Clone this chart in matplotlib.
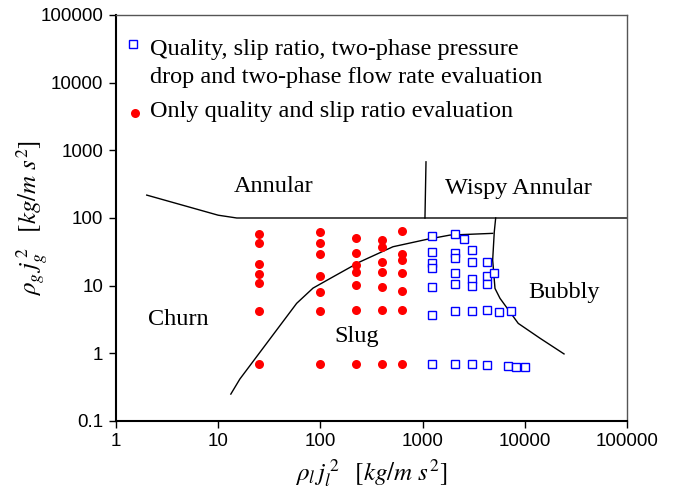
import matplotlib
matplotlib.use("Agg")
from matplotlib import pyplot as plt

plt.rcParams['mathtext.fontset'] = 'stix'

# red dots: only quality and slip ratio evaluation
red_x = [25]*7 + [100]*7 + [225]*7 + [400]*7 + [625]*7
red_y = [59, 43, 20.6, 14.8, 11.0, 4.26, 0.69,
         62.5, 42.6, 29.6, 14.0, 8.1, 4.2, 0.69,
         50, 30.6, 20.1, 16.0, 10.3, 4.36, 0.69,
         47, 37.6, 22.5, 15.7, 9.5, 4.36, 0.69,
         64.7, 29.3, 23.9, 15.2, 8.4, 4.36, 0.69]

# blue squares: full evaluation
blue_x = [1250]*7 + [2075]*7 + [2560] + [3065]*6 + [4300]*5 + [5000, 5600, 6900, 7280, 8150, 10040]
blue_y = [54.6, 31.7, 21.3, 18.0, 9.6, 3.68, 0.69,
          57.8, 30.0, 25.3, 15.2, 10.6, 4.2, 0.69,
          48.3,
          33.6, 22.1, 12.5, 9.9, 4.26, 0.69,
          22.1, 14.0, 10.6, 4.36, 0.67,
          15.2, 4.03, 0.66, 4.26, 0.62, 0.62]

# flow pattern boundaries
annular_x = [2.0, 10, 15.2, 100000]
annular_y = [218, 110, 100, 100]
wispy_x = [1080, 1055]
wispy_y = [676, 100]
slug_x = [13.3, 16.3, 58.6, 84.7, 133, 244, 513, 1097, 1854, 4850]
slug_y = [0.25, 0.417, 5.48, 9.2, 13.5, 22.5, 37.6, 48.3, 55.9, 59.3]
bubbly_x = [5190, 5030, 4850, 5110, 5720, 8630, 14100, 24200]
bubbly_y = [100, 62.5, 23.9, 9.1, 6.5, 2.77, 1.67, 0.98]

labels = ["Annular", "Wispy Annular", "Churn", "Slug", "Bubbly"]
label_x = [35, 8570, 4.04, 228, 24200]
label_y = [296, 277, 3.2, 1.8, 8.0]

legend_lines = ["Quality, slip ratio, two-phase pressure",
                "drop and two-phase flow rate evaluation",
                "Only quality and slip ratio evaluation"]

fig = plt.figure(figsize=(6.79, 4.95), dpi=100)
ax = fig.add_axes([0.1708, 0.1495, 0.7526, 0.8202])

for bx, by in [(annular_x, annular_y), (wispy_x, wispy_y), (slug_x, slug_y), (bubbly_x, bubbly_y)]:
    ax.plot(bx, by, color="black", lw=1.0)

ax.plot(red_x, red_y, "o", color="#ff0000", markersize=6.5, markeredgewidth=0, linestyle="none")
ax.plot(blue_x, blue_y, "s", markerfacecolor="white", markeredgecolor="#0000ff",
        markersize=5.8, markeredgewidth=1.0, linestyle="none")

for t, lx, ly in zip(labels, label_x, label_y):
    ax.text(lx, ly, t, family="Liberation Serif", fontsize=17.5, ha="center", va="center")

ax.set_xscale("log")
ax.set_yscale("log")
ax.set_xlim(1, 100000)
ax.set_ylim(0.1, 100000)
ax.set_xticks([1, 10, 100, 1000, 10000, 100000])
ax.set_xticklabels(["1", "10", "100", "1000", "10000", "100000"])
ax.set_yticks([0.1, 1, 10, 100, 1000, 10000, 100000])
ax.set_yticklabels(["0.1", "1", "10", "100", "1000", "10000", "100000"])
ax.minorticks_off()
ax.tick_params(direction="out", length=5, width=1, labelsize=13.5, pad=4)
for lab in ax.get_xticklabels() + ax.get_yticklabels():
    lab.set_family("Liberation Sans")

for side in ["left", "bottom"]:
    ax.spines[side].set_linewidth(1.5)
for side in ["top", "right"]:
    ax.spines[side].set_linewidth(1.0)
    ax.spines[side].set_color("#555555")

ax.set_xlabel(r"$\rho_l\, j_l^{\,2}$  $[kg/m\ s^2]$", fontsize=18)
ax.set_ylabel(r"$\rho_g\, j_g^{\,2}$  $[kg/m\ s^2]$", fontsize=18)
ax.xaxis.set_label_coords(0.5, -0.088)
ax.yaxis.set_label_coords(-0.13, 0.5)

# legend drawn by hand so the square sits on the first text line
ax.plot([0.0333], [0.9286], "s", transform=ax.transAxes, markerfacecolor="white",
        markeredgecolor="#0000ff", markersize=5.8, markeredgewidth=1.0, clip_on=False)
ax.plot([0.0372], [0.7577], "o", transform=ax.transAxes, color="#ff0000",
        markersize=6.5, markeredgewidth=0, clip_on=False)
for line, by in zip(legend_lines, [0.9015, 0.8325, 0.748]):
    ax.text(0.0665, by, line, transform=ax.transAxes, family="Liberation Serif",
            fontsize=17.5, ha="left", va="baseline")

plt.savefig("out.png", dpi=100)
plt.close()
